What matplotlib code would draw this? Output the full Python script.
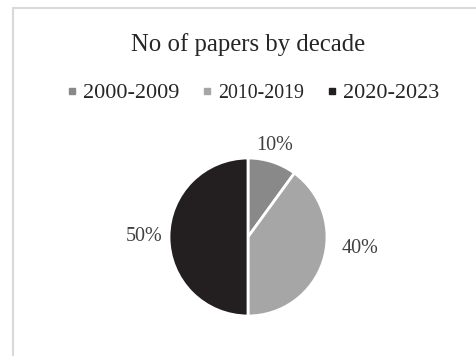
import numpy as np
import matplotlib
matplotlib.use("Agg")
import matplotlib.pyplot as plt
from matplotlib.lines import Line2D
from matplotlib.patches import Rectangle

# data
decades = ["2000-2009", "2010-2019", "2020-2023"]
shares = [10, 40, 50]
colors = ["#898989", "#a6a6a6", "#231f20"]

# Excel "best fit" label placement: radial factor, angle shift (deg)
label_dist = [1.21, 1.43, 1.32]
label_turn = [2, 12, 0]

plt.rcParams["font.family"] = ["Liberation Serif", "DejaVu Serif"]

fig = plt.figure(figsize=(4.76, 3.56), dpi=100)

# light chart-area frame (cropped at right/bottom)
fig.patches.append(Rectangle((12.5 / 476, -0.1), 1.2, (356 - 7.5) / 356 + 0.1,
                             transform=fig.transFigure, fill=False,
                             edgecolor="#d9d9d9", linewidth=1.5))

fig.text(248 / 476, 1 - 45 / 356, "No of papers by decade", ha="center", va="center",
         fontsize=17.8, color="#262626")

# pie
r = 79
ax = fig.add_axes([(248 - r) / 476, (119 - r) / 356, 2 * r / 476, 2 * r / 356])
wedges, texts, autotexts = ax.pie(
    shares, colors=colors, startangle=90, counterclock=False,
    autopct="%1.0f%%", pctdistance=1.0,
    wedgeprops=dict(edgecolor="white", linewidth=2),
    textprops=dict(fontsize=14.5, color="#404040"))
for t, d, turn in zip(autotexts, label_dist, label_turn):
    x, y = t.get_position()
    ang = np.arctan2(y, x) + np.radians(turn)
    rad = np.hypot(x, y) * d
    t.set_position((rad * np.cos(ang), rad * np.sin(ang)))
ax.set_xlim(-1, 1)
ax.set_ylim(-1, 1)

# legend
handles = [Line2D([], [], marker="s", linestyle="none", markersize=4.5,
                  markerfacecolor=c, markeredgecolor=c) for c in colors]
leg = fig.legend(handles, decades, loc="center", bbox_to_anchor=(252 / 476, 1 - 93 / 356),
                 ncol=3, frameon=False, fontsize=16, handlelength=0.6,
                 handletextpad=0.2, columnspacing=0.95)
for t in leg.get_texts():
    t.set_color("#262626")
leg.get_texts()[1].set_fontsize(14.3)

fig.savefig("out.png", dpi=100)
